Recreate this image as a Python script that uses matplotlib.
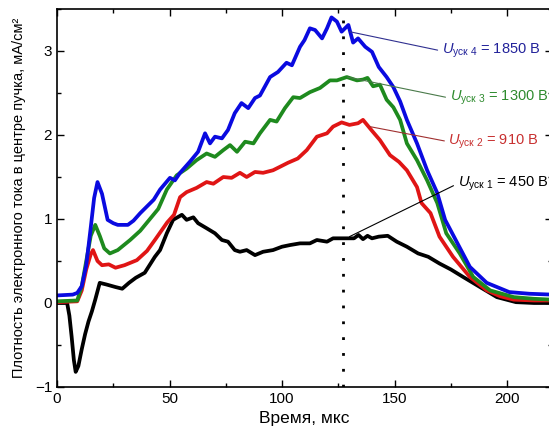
import matplotlib
matplotlib.use("Agg")
import matplotlib.pyplot as plt
from matplotlib.ticker import MultipleLocator

plt.rcParams['font.family'] = ['Liberation Sans', 'DejaVu Sans']
plt.rcParams['mathtext.fontset'] = 'custom'
plt.rcParams['mathtext.rm'] = 'Liberation Sans'
plt.rcParams['mathtext.it'] = 'Liberation Sans:italic'

# ---- data ----
t_black = [0, 4.5, 5.5, 6.5, 7.5, 8.3, 9.5, 11, 12.5, 14, 15.5, 17, 19, 22, 26, 29, 32, 35, 39, 43.5,
           45.8, 48.8, 51.6, 55.5, 57.6, 60.6, 62.7, 66.5, 70.2, 73.3, 76, 79, 81.3, 84.3, 88, 91.6,
           96, 100, 103.6, 108, 112.4, 115.5, 120, 122.7, 128.8, 132, 134, 136, 138, 140, 143, 147,
           151, 155.5, 160.5, 165, 170, 175, 180.5, 188, 195.5, 204, 212, 220]
y_black = [0, 0, -0.15, -0.4, -0.68, -0.82, -0.75, -0.55, -0.37, -0.22, -0.1, 0.04, 0.24, 0.22, 0.19,
           0.17, 0.24, 0.30, 0.36, 0.55, 0.63, 0.83, 0.99, 1.05, 0.99, 1.02, 0.95, 0.89, 0.83, 0.75,
           0.73, 0.63, 0.61, 0.63, 0.57, 0.61, 0.63, 0.67, 0.69, 0.71, 0.71, 0.75, 0.73, 0.77, 0.77,
           0.77, 0.81, 0.76, 0.80, 0.77, 0.79, 0.80, 0.73, 0.67, 0.59, 0.55, 0.47, 0.40, 0.31, 0.19,
           0.07, 0.01, 0.0, 0.0]

t_red = [0, 9, 11, 13, 15, 16, 18, 20, 23, 26, 30, 35.5, 40, 43.5, 49, 52, 54.7, 57.6, 62, 66.5, 69.5,
         73.9, 77.6, 81.3, 84.3, 88, 91.6, 96, 99, 102.7, 107, 111, 115.5, 120, 122.7, 126.5, 130,
         133.8, 136, 140, 143.5, 148, 152, 155.5, 160, 162, 166, 170, 176, 183.5, 191, 197, 203, 212, 220]
y_red = [0.01, 0.02, 0.15, 0.4, 0.58, 0.63, 0.5, 0.45, 0.46, 0.42, 0.45, 0.51, 0.62, 0.75, 0.96, 1.05,
         1.26, 1.32, 1.37, 1.44, 1.42, 1.5, 1.49, 1.55, 1.5, 1.56, 1.55, 1.58, 1.62, 1.67, 1.72, 1.82,
         1.98, 2.02, 2.1, 2.15, 2.12, 2.14, 2.18, 2.05, 1.94, 1.76, 1.68, 1.58, 1.38, 1.19, 1.07, 0.79,
         0.55, 0.31, 0.15, 0.08, 0.04, 0.03, 0.03]

t_green = [0, 9, 11, 13, 15, 17, 19, 21, 23.5, 27, 32.5, 37, 41, 45, 48.8, 53.2, 57.6, 62, 66.5, 70.2,
           73.9, 76.9, 80, 83.6, 87.3, 90.2, 94.7, 97.6, 101.3, 105, 108, 112.4, 116.9, 121.3, 124.4,
           128.8, 133.3, 136, 138, 140.5, 143.5, 146.5, 149.5, 152.5, 155.5, 160, 164.5, 169, 173, 179,
           185, 192.5, 203, 212, 220]
y_green = [0.02, 0.03, 0.2, 0.5, 0.8, 0.93, 0.8, 0.65, 0.59, 0.63, 0.75, 0.86, 0.99, 1.12, 1.35, 1.52,
           1.6, 1.7, 1.78, 1.74, 1.82, 1.88, 1.8, 1.92, 1.9, 2.02, 2.18, 2.16, 2.32, 2.45, 2.44, 2.51,
           2.56, 2.65, 2.65, 2.69, 2.65, 2.66, 2.68, 2.58, 2.6, 2.42, 2.33, 2.18, 1.9, 1.7, 1.46, 1.19,
           0.83, 0.59, 0.31, 0.15, 0.07, 0.05, 0.04]

t_blue = [0, 7, 9, 11, 13, 15, 16.5, 18, 20, 22.5, 25, 27, 31.5, 34, 37, 43, 45.8, 50.2, 52.4, 54.7, 59,
          62.7, 65.8, 68, 70.2, 73.3, 76, 79, 82, 85, 88, 90.2, 94.7, 98.2, 102, 104.4, 108, 110, 112.4,
          114.7, 117.8, 120, 122, 124.4, 126.5, 129.5, 131.6, 133.8, 137, 140, 143, 146.5, 149.5,
          152.5, 155.5, 160, 164.5, 169, 172.5, 178, 183.5, 191, 201, 210, 220]
y_blue = [0.09, 0.1, 0.12, 0.2, 0.45, 0.9, 1.25, 1.44, 1.3, 0.99, 0.95, 0.93, 0.93, 0.98, 1.07, 1.23,
          1.35, 1.49, 1.46, 1.55, 1.68, 1.8, 2.02, 1.9, 1.98, 1.96, 2.06, 2.26, 2.38, 2.32, 2.44, 2.47,
          2.69, 2.75, 2.86, 2.83, 3.05, 3.13, 3.27, 3.25, 3.15, 3.27, 3.4, 3.35, 3.23, 3.31, 3.1, 3.15,
          3.05, 2.99, 2.81, 2.69, 2.57, 2.4, 2.18, 1.9, 1.58, 1.31, 0.99, 0.71, 0.43, 0.24, 0.13, 0.11,
          0.1]

labels = [r'$U_{\mathrm{уск\ 1}}$ = 450 В', r'$U_{\mathrm{уск\ 2}}$ = 910 В',
          r'$U_{\mathrm{уск\ 3}}$ = 1300 В', r'$U_{\mathrm{уск\ 4}}$ = 1850 В']
marker_time = 127

fig = plt.figure(figsize=(5.49, 4.34), dpi=100)
ax = fig.add_axes([57 / 549, 1 - 387 / 434, 495 / 549, 378 / 434])

series = [(t_black, y_black, '#000000'), (t_red, y_red, '#e01515'),
          (t_green, y_green, '#1e8a1e'), (t_blue, y_blue, '#0a0ae0')]
for t, y, c in series:
    ax.plot(t, y, color=c, lw=2.7, solid_joinstyle='round')

ax.axvline(marker_time, color='black', lw=2.0, linestyle=(0, (1, 4.7)))

# annotations: (curve point, label point, text colour, line colour)
ann = [((130, 0.79), (178, 1.42), '#000000', '#000000'),
       ((139, 2.10), (174, 1.92), '#c83030', '#a03030'),
       ((129, 2.69), (174.5, 2.44), '#2e8b2e', '#4a7a4a'),
       ((130, 3.23), (171, 3.0), '#22229a', '#303090')]
for lab, (xy, xyt, tc, lc) in zip(labels, ann):
    ax.annotate(lab, xy=xy, xytext=xyt, color=tc, fontsize=10.5, ha='left', va='center',
                arrowprops=dict(arrowstyle='-', color=lc, lw=0.8, relpos=(0, 0.5),
                                shrinkA=1, shrinkB=0))

ax.set_xlim(0, 220)
ax.set_ylim(-1, 3.5)
ax.xaxis.set_major_locator(MultipleLocator(50))
ax.xaxis.set_minor_locator(MultipleLocator(25))
ax.yaxis.set_major_locator(MultipleLocator(1))
ax.yaxis.set_minor_locator(MultipleLocator(0.5))
ax.tick_params(which='both', direction='in', top=True, right=True, labelsize=11)
ax.tick_params(which='major', length=5, width=1)
ax.tick_params(which='minor', length=3, width=1)
for s in ax.spines.values():
    s.set_linewidth(1.2)

ax.set_xlabel('Время, мкс', fontsize=12.5, labelpad=4)
ax.set_ylabel('Плотность электронного тока в центре пучка, мА/см²', fontsize=10.5, labelpad=6)

fig.savefig('out.png', dpi=100)
